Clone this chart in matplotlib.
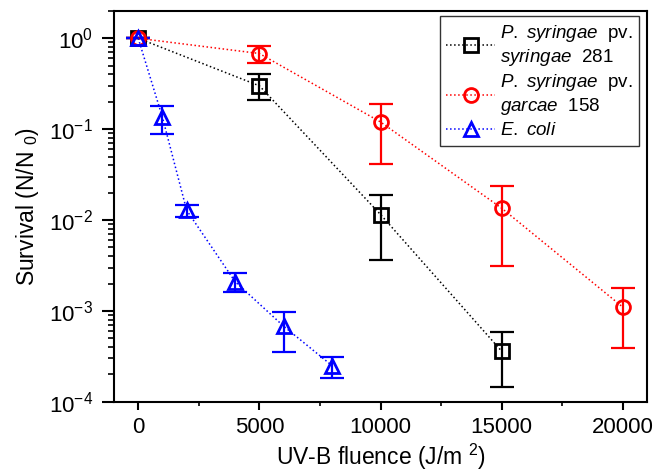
import numpy as np
import matplotlib.pyplot as plt
from matplotlib.ticker import LogLocator, MultipleLocator, NullFormatter

plt.rcParams['font.family'] = ['Liberation Sans', 'DejaVu Sans']
plt.rcParams['mathtext.fontset'] = 'custom'
plt.rcParams['mathtext.rm'] = 'Liberation Sans'
plt.rcParams['mathtext.it'] = 'Liberation Sans:italic'

# P. syringae pv. syringae 281
x_syr = [0, 5000, 10000, 15000]
y_syr = [1.0, 0.30, 0.0115, 3.6e-4]
lo_syr = [1.0, 0.21, 0.0036, 1.45e-4]
hi_syr = [1.0, 0.40, 0.019, 5.8e-4]

# P. syringae pv. garcae 158
x_gar = [0, 5000, 10000, 15000, 20000]
y_gar = [1.0, 0.68, 0.12, 0.0135, 0.0011]
lo_gar = [1.0, 0.53, 0.041, 0.0031, 3.9e-4]
hi_gar = [1.0, 0.83, 0.19, 0.024, 0.0018]

# E. coli
x_eco = [0, 1000, 2000, 4000, 6000, 8000]
y_eco = [1.0, 0.135, 0.0128, 0.0021, 6.8e-4, 2.5e-4]
lo_eco = [1.0, 0.089, 0.0107, 0.0016, 3.5e-4, 1.85e-4]
hi_eco = [1.0, 0.18, 0.0145, 0.0026, 9.8e-4, 3.1e-4]


def draw(ax, x, y, lo, hi, color, marker, label):
    y = np.array(y)
    yerr = [y - np.array(lo), np.array(hi) - y]
    ax.errorbar(x, y, yerr=yerr, fmt='none', ecolor=color, elinewidth=1.6,
                capsize=8.5, capthick=1.6, zorder=2)
    ax.plot(x, y, linestyle=':', color=color, linewidth=1.1, marker=marker,
            markersize=10, markerfacecolor='none', markeredgecolor=color,
            markeredgewidth=2, label=label, zorder=3)


fig = plt.figure(figsize=(6.55, 4.75), dpi=100)
ax = fig.add_axes([0.174, 0.154, 0.814, 0.823])

draw(ax, x_syr, y_syr, lo_syr, hi_syr, 'black', 's',
     r'$\it{P.\ syringae}$  pv.' + '\n' + r'$\it{syringae}$  281')
draw(ax, x_gar, y_gar, lo_gar, hi_gar, 'red', 'o',
     r'$\it{P.\ syringae}$  pv.' + '\n' + r'$\it{garcae}$  158')
draw(ax, x_eco, y_eco, lo_eco, hi_eco, 'blue', '^', r'$\it{E.\ coli}$')

ax.set_yscale('log')
ax.set_ylim(1e-4, 2)
ax.set_xlim(-1000, 21000)
ax.xaxis.set_major_locator(MultipleLocator(5000))
ax.xaxis.set_minor_locator(MultipleLocator(2500))
ax.yaxis.set_major_locator(LogLocator(base=10, numticks=10))
ax.yaxis.set_minor_locator(LogLocator(base=10, subs=np.arange(2, 10), numticks=10))
ax.yaxis.set_minor_formatter(NullFormatter())

ax.tick_params(axis='x', which='major', direction='out', length=6, width=1.5,
               labelsize=16, pad=5)
ax.tick_params(axis='x', which='minor', direction='out', length=3, width=1.2)
ax.tick_params(axis='y', which='major', direction='out', length=9, width=1.5,
               labelsize=16, pad=6)
ax.tick_params(axis='y', which='minor', direction='out', length=4, width=1.2)
for s in ax.spines.values():
    s.set_linewidth(1.5)

ax.set_xlabel(r'UV-B fluence (J/m $^{2}$)', fontsize=16.5, labelpad=3)
ax.set_ylabel(r'Survival (N/N $_{0}$)', fontsize=16.5, labelpad=6)

leg = ax.legend(loc='upper right', bbox_to_anchor=(639 / 655, 459 / 475),
                bbox_transform=fig.transFigure, fontsize=13.5, frameon=True,
                fancybox=False, edgecolor='black', handlelength=2.6,
                borderpad=0.35, labelspacing=0.25, handletextpad=0.25,
                borderaxespad=0)
leg.get_frame().set_linewidth(1.0)

fig.savefig('out.png', dpi=100)
